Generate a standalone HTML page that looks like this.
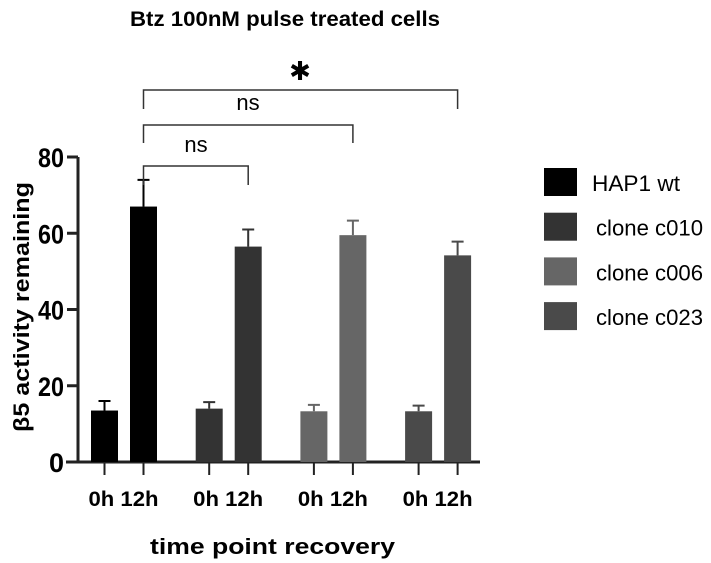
<!DOCTYPE html>
<html><head><meta charset="utf-8"><style>
body{margin:0;background:#fff;}
svg{display:block;font-family:"Liberation Sans",sans-serif;}
</style></head><body>
<svg id="chart" width="711" height="563">
<text x="130" y="26" textLength="310" lengthAdjust="spacingAndGlyphs" font-size="21" font-weight="bold">Btz 100nM pulse treated cells</text>
<g id="plot"></g>
<text x="150" y="554" textLength="245" lengthAdjust="spacingAndGlyphs" font-size="22" font-weight="bold">time point recovery</text>
<text transform="translate(29,432) rotate(-90)" textLength="250" lengthAdjust="spacingAndGlyphs" font-size="22" font-weight="bold">β5 activity remaining</text>
</svg>
<script>
const groups=["HAP1 wt","clone c010","clone c006","clone c023"];
const timepoints=["0h","12h"];
const values0h=[13.5,14,13.3,13.3];
const values12h=[67,56.5,59.5,54.2];
const err0h=[16,15.7,15,14.8];
const err12h=[74,61,63.3,57.8];
const yTicks=[0,20,40,60,80];
const colors=["#000","#333","#666","#4a4a4a"];
const NS="http://www.w3.org/2000/svg";
const g=document.getElementById('plot');
const y0=462,yTop=157,yMax=80;
const y=v=>y0-(v/yMax)*(y0-yTop);
const barW=27;
const xCenter=(gi,ti)=>104.5+gi*104.7+ti*39;
function el(t,a){const e=document.createElementNS(NS,t);for(const k in a)e.setAttribute(k,a[k]);g.appendChild(e);return e;}
let ax=el('line',{x1:78,y1:y(80),x2:78,y2:y0,stroke:'#222','stroke-width':3});


let xa=el('line',{x1:66,y1:y0,x2:480,y2:y0,stroke:'#222','stroke-width':3});


yTicks.forEach(t=>{
 let l=el('line',{x1:67,x2:78,y1:y(t),y2:y(t),stroke:'#222','stroke-width':3});
 
 
 let tx=el('text',{x:64,y:y(t)+10,'text-anchor':'end','font-size':27,'font-weight':'bold'});
 if(t>0){tx.setAttribute('textLength',26);tx.setAttribute('lengthAdjust','spacingAndGlyphs');}
 tx.textContent=t;
 
 
});
groups.forEach((gn,gi)=>{
 [values0h,values12h].forEach((vals,ti)=>{
  const cx=xCenter(gi,ti),v=vals[gi],e=(ti?err12h:err0h)[gi];
  let ln=el('path',{d:`M${cx} ${y(v)}V${y(e)}M${cx-6} ${y(e)}H${cx+6}`,stroke:colors[gi],'stroke-width':2,fill:'none'});
  
  
  let r=el('rect',{x:cx-barW/2,y:y(v),width:barW,height:y0-y(v),fill:colors[gi]});
  
  
  let tk=el('line',{x1:cx,x2:cx,y1:y0,y2:475,stroke:'#222','stroke-width':2});
  
  
 });
 let lb=el('text',{x:xCenter(gi,0)-16,y:506,'font-size':21,'font-weight':'bold',textLength:70,lengthAdjust:'spacingAndGlyphs'});
 lb.textContent=timepoints.join(' ');
 
 
 const ly=168+gi*44.7;
 let sq=el('rect',{x:544,y:ly,width:33,height:28,fill:colors[gi]});
 
 
 let lt=el('text',{x:gi?596:592,y:ly+23,'font-size':22,textLength:gi?107:88,lengthAdjust:'spacingAndGlyphs'});
 lt.textContent=gn;
 
 
});
const brackets=[[1,166,185,'ns',196,152],[2,125,143,'ns',248,110],[3,90,109,'✱',300,80]];
brackets.forEach(b=>{
 const x1=xCenter(0,1),x2=xCenter(b[0],1);
 let p=el('path',{d:`M${x1} ${b[2]}V${b[1]}H${x2}V${b[2]}`,stroke:'#333','stroke-width':1.5,fill:'none'});
 
 
 let t=el('text',{x:b[4],y:b[5],'text-anchor':'middle','font-size':b[3]=='ns'?22:26});
 t.textContent=b[3];
 
 
});
</script>
</body></html>
